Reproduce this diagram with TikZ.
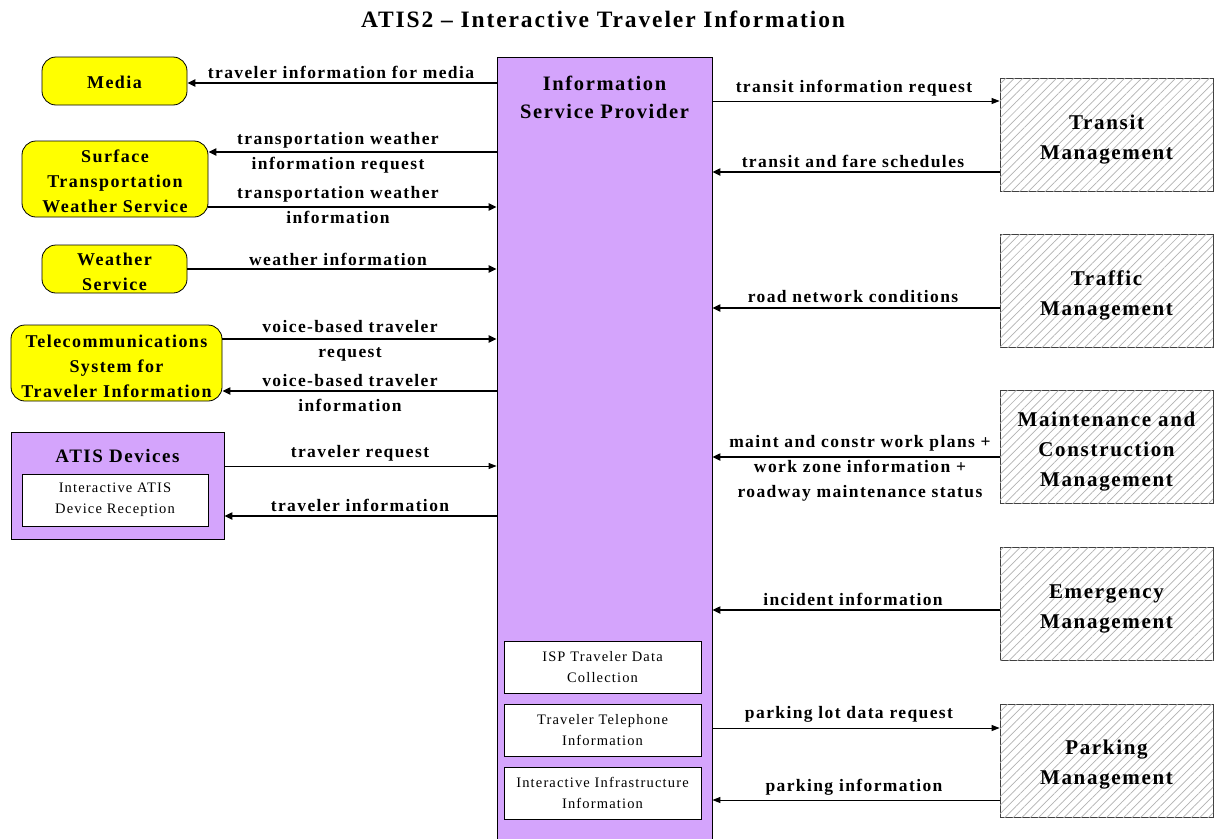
\documentclass[tikz,border=0pt]{standalone}
\usepackage{fontspec}
\setmainfont{Liberation Serif}[LetterSpace=8]
\usetikzlibrary{arrows.meta,patterns.meta}
\definecolor{ispurple}{RGB}{212,164,252}
\definecolor{ylw}{RGB}{255,255,0}
\begin{document}
\begin{tikzpicture}[x=1pt,y=-1pt,
  ext/.style={draw=black, line width=0.8pt, fill=ylw, rounded corners=14pt, inner sep=0pt},
  exttext/.style={align=center, inner sep=0pt, font=\bfseries\fontsize{18}{25}\selectfont},
  mgmt/.style={draw=black!75, line width=0.8pt, fill=white, inner sep=0pt, minimum width=213pt, minimum height=113pt,
     postaction={pattern={Lines[angle=45,distance=6pt,line width=0.7pt]}, pattern color=black!30}},
  mgmttext/.style={align=center, inner sep=0pt, font=\bfseries\fontsize{21}{30}\selectfont},
  inner/.style={draw=black, line width=0.8pt, fill=white, align=center, inner sep=0pt, font=\fontsize{14.5}{21}\selectfont},
  lbl/.style={align=center, inner sep=0pt, font=\bfseries\fontsize{17.5}{25}\selectfont},
  thk/.style={line width=2pt, -{Triangle[length=8pt,width=7pt]}},
  thn/.style={line width=1pt, -{Triangle[length=8pt,width=6pt]}}]
\clip (0,0) rectangle (1220,838);
\useasboundingbox (0,0) rectangle (1220,838);
\fill[white] (0,0) rectangle (1220,838);
% title
\node[font=\bfseries\fontsize{23.5}{28}\selectfont] (title) at (603,19) {ATIS2 -- Interactive Traveler Information};
% ISP
\node[draw=black, line width=0.8pt, fill=ispurple, minimum width=215pt, minimum height=800pt, anchor=north, inner sep=0pt] (isp) at (604.5,57) {};
\node[align=center, font=\bfseries\fontsize{20.5}{28}\selectfont] (isptitle) at (604.5,97) {Information\\Service Provider};
\node[inner, minimum width=197pt, minimum height=52pt] (ispa) at (602.5,667) {ISP Traveler Data\\Collection};
\node[inner, minimum width=197pt, minimum height=52pt] (ispb) at (602.5,730) {Traveler Telephone\\Information};
\node[inner, minimum width=197pt, minimum height=52pt] (ispc) at (602.5,793) {Interactive Infrastructure\\Information};
% left externals
\node[ext, minimum width=145pt, minimum height=48pt] (media) at (114.5,81) {};
\node[exttext] (mediat) at (114.5,82) {Media};
\node[ext, minimum width=186pt, minimum height=76pt] (stws) at (115,179) {};
\node[exttext] (stwst) at (115,181.5) {Surface\\Transportation\\Weather Service};
\node[ext, minimum width=145pt, minimum height=48pt] (ws) at (114.5,269) {};
\node[exttext] (wst) at (114.5,272) {Weather\\Service};
\node[ext, minimum width=211pt, minimum height=76pt] (tel) at (116.5,363) {};
\node[exttext] (telt) at (116.5,366) {Telecommunications\\System for\\Traveler Information};
\node[draw=black, line width=0.8pt, fill=ispurple, minimum width=213pt, minimum height=107pt, inner sep=0pt] (atis) at (117.5,485.5) {};
\node[font=\bfseries\fontsize{19}{24}\selectfont] (atist) at (117.5,456) {ATIS Devices};
\node[inner, minimum width=186pt, minimum height=52pt] (atisi) at (115,500) {Interactive ATIS\\Device Reception};
% right management boxes
\node[mgmt] (transit) at (1106.5,134.5) {};
\node[mgmttext] (transitt) at (1106.5,139.5) {Transit\\Management};
\node[mgmt] (traffic) at (1106.5,291) {};
\node[mgmttext] (traffict) at (1106.5,295.5) {Traffic\\Management};
\node[mgmt] (maint) at (1106.5,446.5) {};
\node[mgmttext] (maintt) at (1106.5,451.5) {Maintenance and\\Construction\\Management};
\node[mgmt] (emerg) at (1106.5,603.5) {};
\node[mgmttext] (emergt) at (1106.5,608.5) {Emergency\\Management};
\node[mgmt] (park) at (1106.5,760.5) {};
\node[mgmttext] (parkt) at (1106.5,764.5) {Parking\\Management};
% left flows
\draw[thk] (isp.west |- 0,83) -- (media.east |- 0,83);
\node[lbl] (l1) at (341,72) {traveler information for media};
\draw[thk] (isp.west |- 0,152) -- (stws.east |- 0,152);
\node[lbl] (l2) at (338,153) {transportation weather\\information request};
\draw[thk] (stws.east |- 0,207) -- (isp.west |- 0,207);
\node[lbl] (l3) at (338,205) {transportation weather\\information};
\draw[thk] (ws.east |- 0,269) -- (isp.west |- 0,269);
\node[lbl] (l4) at (338,259) {weather information};
\draw[thk] (tel.east |- 0,339) -- (isp.west |- 0,339);
\node[lbl] (l5) at (350,341) {voice-based traveler\\request};
\draw[thk] (isp.west |- 0,391) -- (tel.east |- 0,391);
\node[lbl] (l6) at (350,393) {voice-based traveler\\information};
\draw[thn] (atis.east |- 0,466) -- (isp.west |- 0,466);
\node[lbl] (l7) at (360,453) {traveler request};
\draw[thk] (isp.west |- 0,516) -- (atis.east |- 0,516);
\node[lbl] (l8) at (360,505) {traveler information};
% right flows
\draw[thn] (isp.east |- 0,101) -- (transit.west |- 0,101);
\node[lbl] (r1) at (854,88) {transit information request};
\draw[thk] (transit.west |- 0,172) -- (isp.east |- 0,172);
\node[lbl] (r2) at (853,161) {transit and fare schedules};
\draw[thk] (traffic.west |- 0,308) -- (isp.east |- 0,308);
\node[lbl] (r3) at (853,297) {road network conditions};
\draw[thk] (maint.west |- 0,457) -- (isp.east |- 0,457);
\node[lbl] (r4) at (860,468) {maint and constr work plans +\\work zone information +\\roadway maintenance status};
\draw[thk] (emerg.west |- 0,610) -- (isp.east |- 0,610);
\node[lbl] (r5) at (853,599) {incident information};
\draw[thn] (isp.east |- 0,728) -- (park.west |- 0,728);
\node[lbl] (r6) at (849,714) {parking lot data request};
\draw[thn] (park.west |- 0,800) -- (isp.east |- 0,800);
\node[lbl] (r7) at (854,787) {parking information};
\end{tikzpicture}
\end{document}
